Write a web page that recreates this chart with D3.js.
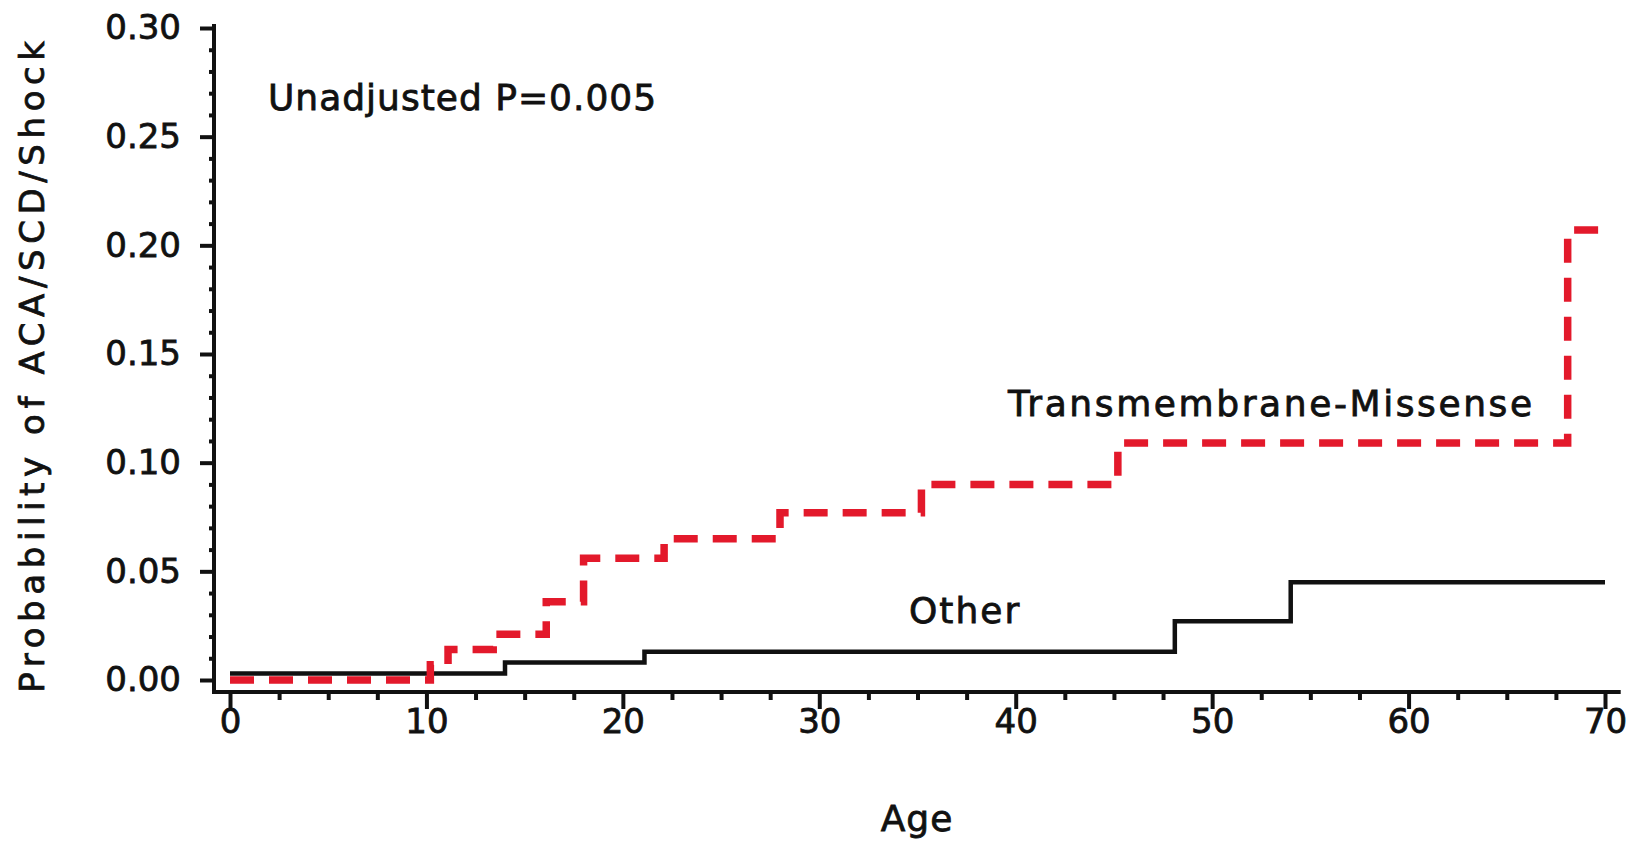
<!DOCTYPE html>
<html>
<head>
<meta charset="utf-8">
<script src="https://cdn.jsdelivr.net/npm/d3@7"></script>
<style>
  body { margin: 0; background: #fff; }
  text { font-family: "DejaVu Sans", Verdana, sans-serif; fill: #111; stroke: #111; stroke-width: 0.8px; }
</style>
</head>
<body>
<div id="chart"></div>
<script>
// Kaplan-Meier style cumulative probability
const tmAges = [0, 10.2, 11.1, 13.4, 16.1, 18.0, 22.1, 28.0, 35.2, 45.2, 68.1, 70];
const tmProb = [0, 0.007, 0.014, 0.021, 0.036, 0.056, 0.065, 0.077, 0.090, 0.109, 0.207, 0.207];
const otherAges = [0, 14.0, 21.1, 48.1, 54.0, 70];
const otherProb = [0.003, 0.008, 0.013, 0.027, 0.045, 0.045];

const xTicks = [0, 10, 20, 30, 40, 50, 60, 70];
const yTicks = [0, 0.05, 0.10, 0.15, 0.20, 0.25, 0.30];

const W = 1629, H = 846;
const svg = d3.select("#chart").append("svg")
    .attr("width", W).attr("height", H);

const x = d3.scaleLinear().domain([0, 70]).range([230, 1605]);
const y = d3.scaleLinear().domain([0, 0.30]).range([680, 28]);
const axisY = 692, axisX = 214;

// x axis: minor ticks every 2.5, major every 10
const gx = svg.append("g").attr("transform", `translate(0,${axisY})`);
gx.call(d3.axisBottom(x).tickValues(d3.range(0, 70.01, 2.5).filter(v => v % 10 !== 0))
    .tickSize(8).tickFormat(""));
gx.select(".domain").remove();
const gxMajor = svg.append("g").attr("transform", `translate(0,${axisY})`)
    .call(d3.axisBottom(x).tickValues(xTicks).tickSize(17).tickPadding(-2).tickFormat(d3.format("d")));
gxMajor.select(".domain").remove();
gxMajor.selectAll("text").style("font-size", "34px").attr("dy", "0.75em");

// y axis: minor ticks every 0.01
const gy = svg.append("g").attr("transform", `translate(${axisX},0)`);
gy.call(d3.axisLeft(y).tickValues(d3.range(0, 0.3001, 0.01).filter((v, i) => i % 5 !== 0))
    .tickSize(5).tickFormat(""));
gy.select(".domain").remove();
const gyMajor = svg.append("g").attr("transform", `translate(${axisX},0)`)
    .call(d3.axisLeft(y).tickValues(yTicks).tickSize(14).tickPadding(19).tickFormat(d3.format(".2f")));
gyMajor.select(".domain").remove();
gyMajor.selectAll("text").style("font-size", "34px");
svg.selectAll("g.tick line").attr("stroke", "#111").attr("stroke-width", 4);

// axis lines
svg.append("line").attr("x1", axisX).attr("x2", x(70.8))
    .attr("y1", axisY).attr("y2", axisY).attr("stroke", "#111").attr("stroke-width", 4);
svg.append("line").attr("x1", axisX).attr("x2", axisX)
    .attr("y1", axisY + 2).attr("y2", y(0.30) - 4).attr("stroke", "#111").attr("stroke-width", 4);

// step lines
const step = d3.line().curve(d3.curveStepAfter).x(d => x(d[0])).y(d => y(d[1]));

svg.append("path")
    .datum(d3.zip(otherAges, otherProb))
    .attr("d", step)
    .attr("fill", "none").attr("stroke", "#111").attr("stroke-width", 4.5);

svg.append("path")
    .datum(d3.zip(tmAges, tmProb))
    .attr("d", step)
    .attr("fill", "none").attr("stroke", "#e3192b").attr("stroke-width", 7.5)
    .attr("stroke-dasharray", "24,15");

// labels
svg.append("text").attr("x", 268).attr("y", 110)
    .style("font-size", "36px").style("letter-spacing", "1px")
    .text("Unadjusted P=0.005");
svg.append("text").attr("x", 1008).attr("y", 416)
    .style("font-size", "36px").style("letter-spacing", "2.6px")
    .text("Transmembrane-Missense");
svg.append("text").attr("x", 909).attr("y", 623)
    .style("font-size", "36px").style("letter-spacing", "2px")
    .text("Other");
svg.append("text").attr("x", 917).attr("y", 831).attr("text-anchor", "middle")
    .style("font-size", "36px").style("letter-spacing", "1px")
    .text("Age");
svg.append("text")
    .attr("transform", `translate(44,364) rotate(-90)`)
    .attr("text-anchor", "middle")
    .style("font-size", "34px").style("letter-spacing", "5.6px")
    .text("Probability of ACA/SCD/Shock");
</script>
</body>
</html>
